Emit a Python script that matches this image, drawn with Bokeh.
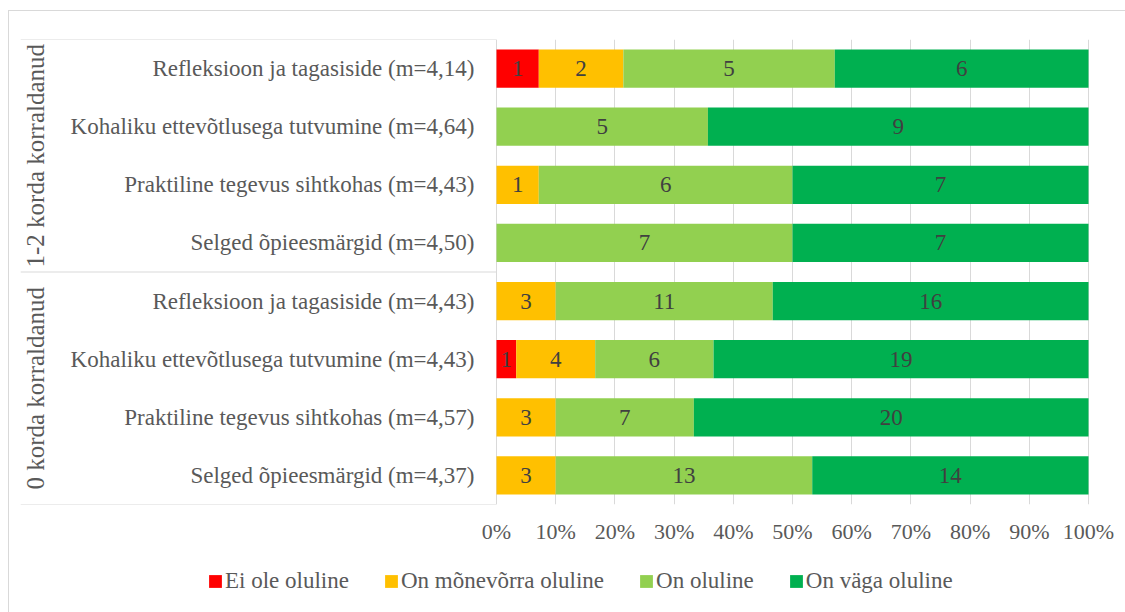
import math
from bokeh.plotting import figure
from bokeh.layouts import column
from bokeh.models import (FactorRange, Range1d, ColumnDataSource, FixedTicker,
                          NumeralTickFormatter, Legend, LegendItem)
from bokeh.core.properties import value
from bokeh.embed import file_html
from bokeh.resources import INLINE

# ---------------- data ----------------
groups = ["1-2 korda korraldanud", "0 korda korraldanud"]
items_g1 = ["Refleksioon ja tagasiside (m=4,14)",
            "Kohaliku ettevõtlusega tutvumine (m=4,64)",
            "Praktiline tegevus sihtkohas (m=4,43)",
            "Selged õpieesmärgid (m=4,50)"]
items_g2 = ["Refleksioon ja tagasiside (m=4,43)",
            "Kohaliku ettevõtlusega tutvumine (m=4,43)",
            "Praktiline tegevus sihtkohas (m=4,57)",
            "Selged õpieesmärgid (m=4,37)"]
series = ["Ei ole oluline", "On mõnevõrra oluline", "On oluline", "On väga oluline"]
ei_ole_oluline = [1, 0, 0, 0, 0, 1, 0, 0]
monevorra_oluline = [2, 0, 1, 0, 3, 4, 3, 3]
on_oluline = [5, 5, 6, 7, 11, 6, 7, 13]
vaga_oluline = [6, 9, 7, 7, 16, 19, 20, 14]
tick_values = [0.0, 0.1, 0.2, 0.3, 0.4, 0.5, 0.6, 0.7, 0.8, 0.9, 1.0]

# ---------------- styles ----------------
colors = ["#FF0000", "#FFC000", "#92D050", "#00B050"]
FONT = "Liberation Serif"
GRID = "#d9d9d9"
LABEL_C = "#595959"
DATA_C = "#404040"

W = 1116
H_MAIN, H_LEG = 549, 52
LABEL_PX = 476   # width of label area inside frame
BAR_PX = 592     # width of 0..100% area
RIGHT_PX = 37    # empty space right of 100%

rows = [(groups[0], it) for it in items_g1] + [(groups[1], it) for it in items_g2]
counts = [ei_ole_oluline, monevorra_oluline, on_oluline, vaga_oluline]
totals = [sum(c[i] for c in counts) for i in range(len(rows))]

data = {"y": rows}
for k in range(4):
    lefts, rights = [], []
    for i in range(len(rows)):
        l = sum(counts[j][i] for j in range(k)) / totals[i]
        r = l + counts[k][i] / totals[i]
        lefts.append(l)
        rights.append(r)
    data[f"l{k}"] = lefts
    data[f"r{k}"] = rights
src = ColumnDataSource(data)

y_range = FactorRange(*reversed(rows), group_padding=0, factor_padding=0,
                      subgroup_padding=0, range_padding=0)
x_start = -LABEL_PX / BAR_PX
x_end = 1.0 + RIGHT_PX / BAR_PX
p = figure(width=W, height=H_MAIN, y_range=y_range, x_range=Range1d(x_start, x_end),
           output_backend="svg", toolbar_location=None,
           min_border_left=11, min_border_right=0, min_border_top=28,
           min_border_bottom=56, y_axis_location=None)
p.outline_line_color = None
p.background_fill_color = "white"

for k in range(4):
    p.hbar(y="y", left=f"l{k}", right=f"r{k}", height=0.66, source=src,
           fill_color=colors[k], line_color=None)

# data labels
lx, ly, lt = [], [], []
for k in range(4):
    for i in range(len(rows)):
        if counts[k][i] > 0:
            lx.append((data[f"l{k}"][i] + data[f"r{k}"][i]) / 2)
            ly.append(rows[i])
            lt.append(str(counts[k][i]))
p.text(x=lx, y=ly, text=lt, text_align="center", text_baseline="middle",
       text_font=value(FONT), text_font_size="23px", text_color=DATA_C)

# category labels
p.text(x=[0] * len(rows), y=rows, text=[r[1] for r in rows], x_offset=-22,
       text_align="right", text_baseline="middle", text_font=value(FONT),
       text_font_size="23px", text_color=LABEL_C)

# group labels
p.text(x=[x_start] * len(groups), y=groups, text=groups, x_offset=15,
       angle=math.pi / 2, text_align="center", text_baseline="middle",
       text_font=value(FONT), text_font_size="25px", text_color=LABEL_C)

# label-area separator lines
bounds = [0, len(items_g2), len(rows)]
p.segment(x0=[x_start] * 3, x1=[0] * 3, y0=bounds, y1=bounds,
          line_color=GRID, line_width=1)

# axes & grid
p.xaxis.ticker = FixedTicker(ticks=tick_values)
p.xaxis.formatter = NumeralTickFormatter(format="0%")
p.xaxis.axis_line_color = None
p.xaxis.major_tick_line_color = None
p.xaxis.minor_tick_line_color = None
p.xaxis.major_label_text_font = FONT
p.xaxis.major_label_text_font_size = "22px"
p.xaxis.major_label_text_color = LABEL_C
p.xaxis.major_label_standoff = 8
p.xgrid.ticker = FixedTicker(ticks=tick_values)
p.xgrid.grid_line_color = GRID
p.ygrid.visible = False

# legend strip (separate figure so the legend sits inside its own frame)
pl = figure(width=W, height=H_LEG, x_range=Range1d(0, 1), y_range=Range1d(0, 1),
            output_backend="svg", toolbar_location=None,
            min_border_left=0, min_border_right=0, min_border_top=0, min_border_bottom=0,
            x_axis_location=None, y_axis_location=None)
pl.outline_line_color = None
pl.grid.visible = False
# placeholder renderers (zero-width, outside the visible range) that carry the legend swatches
leg_renderers = [pl.hbar(y=[-5], left=[0], right=[0], height=0.5,
                         fill_color=c, line_color=None) for c in colors]
legend = Legend(items=[LegendItem(label=s, renderers=[r]) for s, r in zip(series, leg_renderers)],
                orientation="horizontal", location=(187, 18),
                border_line_color=None, background_fill_alpha=0,
                padding=0, margin=0, spacing=34, glyph_width=16, glyph_height=16,
                label_standoff=2, label_text_font=FONT, label_text_font_size="23px",
                label_text_color=LABEL_C)
pl.add_layout(legend)

layout = column(p, pl, spacing=0)
layout.styles = {"border-top": "1px solid #d9d9d9", "border-left": "1px solid #d9d9d9",
                 "margin-left": "8px", "margin-top": "10px"}

open("out.html", "w").write(file_html(layout, INLINE))
